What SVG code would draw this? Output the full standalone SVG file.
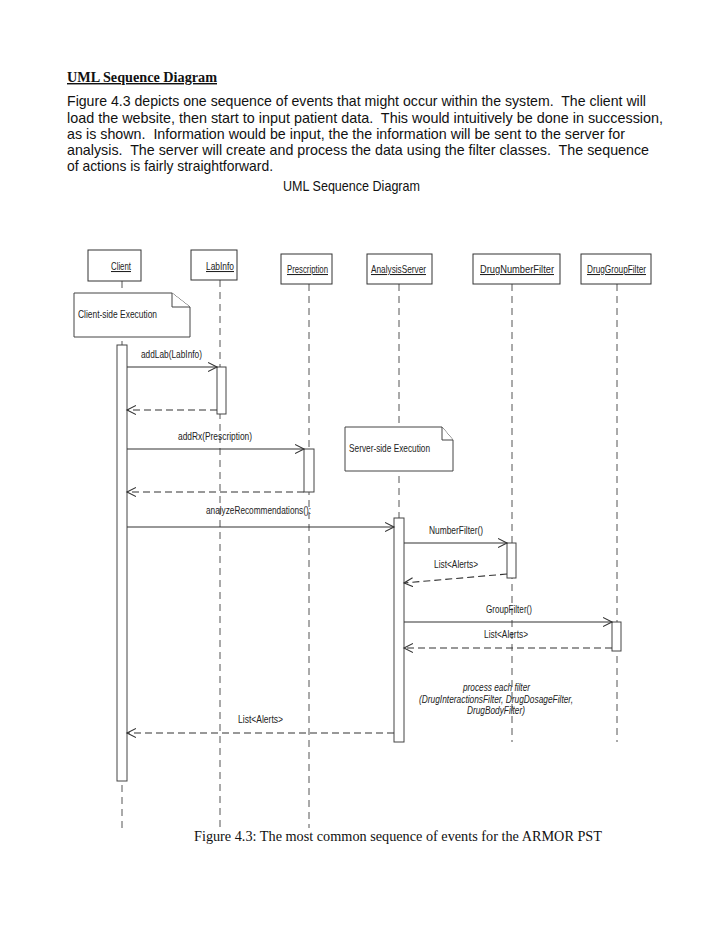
<svg xmlns="http://www.w3.org/2000/svg" width="728" height="942" viewBox="0 0 728 942">
<style>
  .doc { font-family: "Liberation Sans", Arial, sans-serif; font-size: 14.3px; fill: #111; white-space: pre; }
  .serif { font-family: "Liberation Serif", "Times New Roman", serif; font-size: 14.3px; fill: #111; }
  .lbl { font-family: "Liberation Sans", Arial, sans-serif; font-size: 10.5px; fill: #222; }
  .it { font-style: italic; }
  .box { fill: #fff; stroke: #333; stroke-width: 1; }
  .act { fill: #fff; stroke: #444; stroke-width: 1; }
  .life { stroke: #555; stroke-width: 1; stroke-dasharray: 7,5; fill: none; }
  .msg { stroke: #333; stroke-width: 1.1; fill: none; }
  .ret { stroke: #333; stroke-width: 1.1; fill: none; stroke-dasharray: 7,4; }
  .note { fill: #fff; stroke: #444; stroke-width: 1; }
</style>
<defs>
  <marker id="open" markerUnits="userSpaceOnUse" markerWidth="11" markerHeight="11" refX="9" refY="5" orient="auto">
    <path d="M0,0.5 L9,5 L0,9.5" fill="none" stroke="#333" stroke-width="1.1"/>
  </marker>
</defs>
<rect width="728" height="942" fill="#fff"/>

<g id="page-text" xml:space="preserve">
  <text class="serif" x="67" y="82" font-weight="bold" text-decoration="underline" textLength="150" lengthAdjust="spacingAndGlyphs">UML Sequence Diagram</text>
  <text class="doc" x="67" y="106" textLength="579" lengthAdjust="spacingAndGlyphs">Figure 4.3 depicts one sequence of events that might occur within the system.  The client will</text>
  <text class="doc" x="67" y="122.5" textLength="596" lengthAdjust="spacingAndGlyphs">load the website, then start to input patient data.  This would intuitively be done in succession,</text>
  <text class="doc" x="67" y="139" textLength="558" lengthAdjust="spacingAndGlyphs">as is shown.  Information would be input, the the information will be sent to the server for</text>
  <text class="doc" x="67" y="155" textLength="582" lengthAdjust="spacingAndGlyphs">analysis.  The server will create and process the data using the filter classes.  The sequence</text>
  <text class="doc" x="67" y="171" textLength="206" lengthAdjust="spacingAndGlyphs">of actions is fairly straightforward.</text>
  <text class="doc" x="283" y="191" textLength="137" lengthAdjust="spacingAndGlyphs">UML Sequence Diagram</text>
  <text class="serif" x="194" y="841" textLength="408" lengthAdjust="spacingAndGlyphs">Figure 4.3: The most common sequence of events for the ARMOR PST</text>
</g>

<g id="lifelines">
  <line class="life" x1="122" y1="281" x2="122" y2="828"/>
  <line class="life" x1="220" y1="280" x2="220" y2="828"/>
  <line class="life" x1="309" y1="284" x2="309" y2="828"/>
  <line class="life" x1="399" y1="284" x2="399" y2="742"/>
  <line class="life" x1="512" y1="284" x2="512" y2="742"/>
  <line class="life" x1="617" y1="284" x2="617" y2="742"/>
</g>

<g id="Client">
  <rect class="box" x="88" y="250" width="53" height="31"/>
  <text class="lbl" x="111" y="270" text-decoration="underline" textLength="20" lengthAdjust="spacingAndGlyphs">Client</text>
  <rect class="act" x="117" y="345" width="10" height="436"/>
</g>
<g id="LabInfo">
  <rect class="box" x="191" y="250" width="46" height="30"/>
  <text class="lbl" x="206" y="270" text-decoration="underline" textLength="28" lengthAdjust="spacingAndGlyphs">LabInfo</text>
  <rect class="act" x="217" y="367" width="9" height="47"/>
</g>
<g id="Prescription">
  <rect class="box" x="281" y="254" width="51" height="30"/>
  <text class="lbl" x="287" y="273" text-decoration="underline" textLength="41" lengthAdjust="spacingAndGlyphs">Prescription</text>
  <rect class="act" x="304" y="449" width="10" height="43"/>
</g>
<g id="AnalysisServer">
  <rect class="box" x="367" y="254" width="65" height="30"/>
  <text class="lbl" x="371" y="273" text-decoration="underline" textLength="55" lengthAdjust="spacingAndGlyphs">AnalysisServer</text>
  <rect class="act" x="394" y="518" width="10" height="224"/>
</g>
<g id="DrugNumberFilter">
  <rect class="box" x="473" y="254" width="87" height="30"/>
  <text class="lbl" x="480" y="273" text-decoration="underline" textLength="74" lengthAdjust="spacingAndGlyphs">DrugNumberFilter</text>
  <rect class="act" x="507" y="543" width="9" height="35"/>
</g>
<g id="DrugGroupFilter">
  <rect class="box" x="581" y="254" width="70" height="30"/>
  <text class="lbl" x="587" y="273" text-decoration="underline" textLength="59" lengthAdjust="spacingAndGlyphs">DrugGroupFilter</text>
  <rect class="act" x="612" y="622" width="9" height="29"/>
</g>

<g id="note-client">
  <path class="note" d="M74,293 H172 L190,307 V337 H74 Z"/>
  <path class="note" d="M172,293 V307 H190" fill="none"/>
  <text class="lbl" x="78" y="318" textLength="79" lengthAdjust="spacingAndGlyphs">Client-side Execution</text>
</g>
<g id="note-server">
  <path class="note" d="M345,427 H442 L453,440 V471 H345 Z"/>
  <path class="note" d="M442,427 V440 H453" fill="none"/>
  <text class="lbl" x="349" y="452" textLength="81" lengthAdjust="spacingAndGlyphs">Server-side Execution</text>
</g>

<g id="connectors">
  <line class="msg" x1="127" y1="367" x2="217" y2="367" marker-end="url(#open)"/>
  <line class="ret" x1="217" y1="410" x2="127" y2="410" marker-end="url(#open)"/>
  <line class="msg" x1="127" y1="449" x2="304" y2="449" marker-end="url(#open)"/>
  <line class="ret" x1="304" y1="492" x2="127" y2="492" marker-end="url(#open)"/>
  <line class="msg" x1="127" y1="527" x2="394" y2="527" marker-end="url(#open)"/>
  <line class="msg" x1="404" y1="543" x2="507" y2="543" marker-end="url(#open)"/>
  <line class="ret" x1="507" y1="574" x2="404" y2="583" marker-end="url(#open)"/>
  <line class="msg" x1="404" y1="622" x2="612" y2="622" marker-end="url(#open)"/>
  <line class="ret" x1="612" y1="648" x2="404" y2="648" marker-end="url(#open)"/>
  <line class="ret" x1="394" y1="733" x2="127" y2="733" marker-end="url(#open)"/>
</g>

<g id="message-labels">
  <text class="lbl" x="141" y="358" textLength="61" lengthAdjust="spacingAndGlyphs">addLab(LabInfo)</text>
  <text class="lbl" x="178" y="440" textLength="74" lengthAdjust="spacingAndGlyphs">addRx(Prescription)</text>
  <text class="lbl" x="206" y="514" textLength="105" lengthAdjust="spacingAndGlyphs">analyzeRecommendations():</text>
  <text class="lbl" x="429" y="534" textLength="54" lengthAdjust="spacingAndGlyphs">NumberFilter()</text>
  <text class="lbl" x="434" y="568" textLength="44" lengthAdjust="spacingAndGlyphs">List&lt;Alerts&gt;</text>
  <text class="lbl" x="486" y="613" textLength="46" lengthAdjust="spacingAndGlyphs">GroupFilter()</text>
  <text class="lbl" x="484" y="638" textLength="44" lengthAdjust="spacingAndGlyphs">List&lt;Alerts&gt;</text>
  <text class="lbl it" x="463" y="691" textLength="67" lengthAdjust="spacingAndGlyphs">process each filter</text>
  <text class="lbl it" x="419" y="703" textLength="154" lengthAdjust="spacingAndGlyphs">(DrugInteractionsFilter, DrugDosageFilter,</text>
  <text class="lbl it" x="467" y="714" textLength="58" lengthAdjust="spacingAndGlyphs">DrugBodyFilter)</text>
  <text class="lbl" x="238" y="723" textLength="45" lengthAdjust="spacingAndGlyphs">List&lt;Alerts&gt;</text>
</g>
</svg>
